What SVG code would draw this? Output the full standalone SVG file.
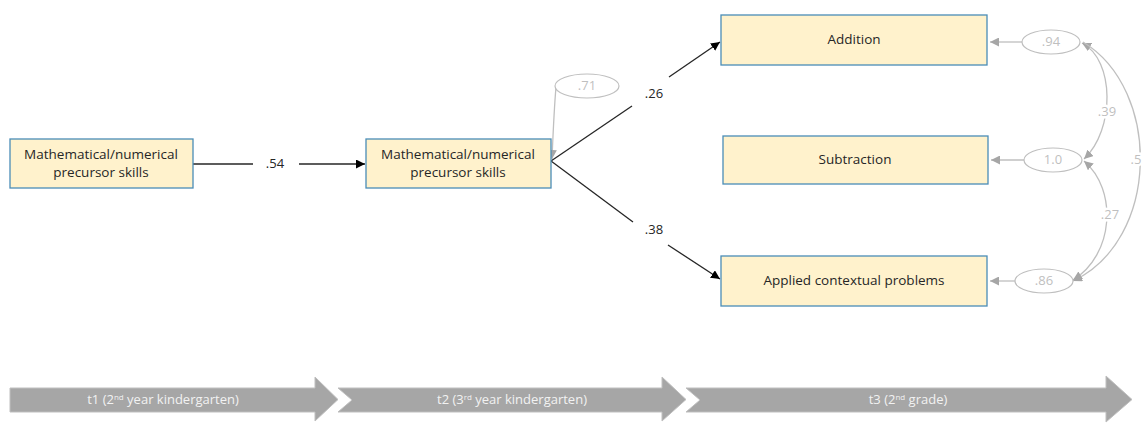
<svg xmlns="http://www.w3.org/2000/svg" width="1147" height="423" viewBox="0 0 1147 423">
<style>
.box{fill:#fff2cc;stroke:#4a8db7;stroke-width:1.3}
.t{font-family:"Open Sans","Liberation Sans",sans-serif;font-size:13.5px;fill:#262626;text-anchor:middle}
.lab{font-family:"Open Sans","Liberation Sans",sans-serif;font-size:13px;fill:#262626;text-anchor:middle}
.glab{font-family:"Open Sans","Liberation Sans",sans-serif;font-size:13px;fill:#bfbfbf;text-anchor:middle}
.dl{stroke:#262626;stroke-width:1.3;fill:none}
.gl{stroke:#bfbfbf;stroke-width:1.3;fill:none}
.ell{fill:#fff;stroke:#bfbfbf;stroke-width:1.2}
.tl{fill:#a6a6a6;stroke:#bfbfbf;stroke-width:1}
.tt{font-family:"Open Sans","Liberation Sans",sans-serif;font-size:13px;fill:#f2f2f2;text-anchor:middle}
</style>
<defs>
<marker id="ad" viewBox="0 0 10 10" refX="10" refY="5" markerWidth="9" markerHeight="9" markerUnits="userSpaceOnUse" orient="auto-start-reverse"><path d="M0,0 L10,5 L0,10 z" fill="#000"/></marker>
<marker id="ag" viewBox="0 0 10 10" refX="10" refY="5" markerWidth="9" markerHeight="9" markerUnits="userSpaceOnUse" orient="auto-start-reverse"><path d="M0,0 L10,5 L0,10 z" fill="#a6a6a6"/></marker>
</defs>
<g id="connectors">
<path class="dl" d="M193,164 L253,164"/>
<path class="dl" d="M299,164 L365,164" marker-end="url(#ad)"/>
<path class="dl" d="M551,161 L632,106"/>
<path class="dl" d="M669,77 L720,42" marker-end="url(#ad)"/>
<path class="dl" d="M551,161 L633,222"/>
<path class="dl" d="M668,245 L720,279" marker-end="url(#ad)"/>
<path class="gl" d="M556,87 C554,110 553,135 552,159" marker-end="url(#ag)"/>
<path class="gl" d="M1022,42 L990,42" marker-end="url(#ag)"/>
<path class="gl" d="M1024,160 L991,160" marker-end="url(#ag)"/>
<path class="gl" d="M1015,281 L990,281" marker-end="url(#ag)"/>
<path class="gl" d="M1082,43 C1115,60 1115,130 1084,159" marker-start="url(#ag)" marker-end="url(#ag)"/>
<path class="gl" d="M1084,161 C1118,190 1114,255 1073,280" marker-start="url(#ag)" marker-end="url(#ag)"/>
<path class="gl" d="M1083,42 C1162,90 1160,240 1073,281" marker-end="url(#ag)"/>
<text class="lab" x="275" y="168">.54</text>
<text class="lab" x="654" y="98">.26</text>
<text class="lab" x="654" y="234">.38</text>
<text class="glab" x="1107" y="116" stroke="#fff" stroke-width="5" paint-order="stroke">.39</text>
<text class="glab" x="1110" y="219" stroke="#fff" stroke-width="5" paint-order="stroke">.27</text>
<text class="glab" x="1136" y="164" stroke="#fff" stroke-width="5" paint-order="stroke" text-anchor="start">.5</text>
</g>
<g id="n_t1skills">
<rect class="box" x="10" y="139" width="183" height="49"/>
<text class="t" x="101" y="159">Mathematical/numerical</text>
<text class="t" x="101" y="177">precursor skills</text>
</g>
<g id="n_t2skills">
<rect class="box" x="366" y="139" width="185" height="49"/>
<text class="t" x="458" y="159">Mathematical/numerical</text>
<text class="t" x="458" y="177">precursor skills</text>
</g>
<g id="n_e71">
<ellipse class="ell" cx="587" cy="86" rx="32" ry="12"/>
<text class="glab" x="587" y="90">.71</text>
</g>
<g id="n_addition">
<rect class="box" x="721" y="15" width="266" height="50"/>
<text class="t" x="854" y="44">Addition</text>
</g>
<g id="n_subtraction">
<rect class="box" x="723" y="136" width="265" height="48"/>
<text class="t" x="855" y="164">Subtraction</text>
</g>
<g id="n_applied">
<rect class="box" x="721" y="256" width="266" height="50"/>
<text class="t" x="854" y="285">Applied contextual problems</text>
</g>
<g id="n_e94">
<ellipse class="ell" cx="1051" cy="42" rx="29" ry="12"/>
<text class="glab" x="1051" y="46">.94</text>
</g>
<g id="n_e10">
<ellipse class="ell" cx="1053" cy="160" rx="29" ry="12"/>
<text class="glab" x="1053" y="164">1.0</text>
</g>
<g id="n_e86">
<ellipse class="ell" cx="1044" cy="281" rx="29" ry="12"/>
<text class="glab" x="1044" y="285">.86</text>
</g>
<g id="n_timeline">
<path class="tl" d="M10,388 L315,388 L315,377 L338,399.5 L315,421 L315,412 L10,412 z"/>
<path class="tl" d="M338,388 L662,388 L662,377 L686,399.5 L662,421 L662,412 L338,412 L352,400 z"/>
<path class="tl" d="M686,388 L1106,388 L1106,376 L1132,399.5 L1106,422 L1106,412 L686,412 L700,400 z"/>
<text class="tt" x="163" y="404">t1 (2<tspan font-size="8" dy="-4">nd</tspan><tspan dy="4"> year kindergarten)</tspan></text>
<text class="tt" x="512" y="404">t2 (3<tspan font-size="8" dy="-4">rd</tspan><tspan dy="4"> year kindergarten)</tspan></text>
<text class="tt" x="908" y="404">t3 (2<tspan font-size="8" dy="-4">nd</tspan><tspan dy="4"> grade)</tspan></text>
</g>
</svg>
